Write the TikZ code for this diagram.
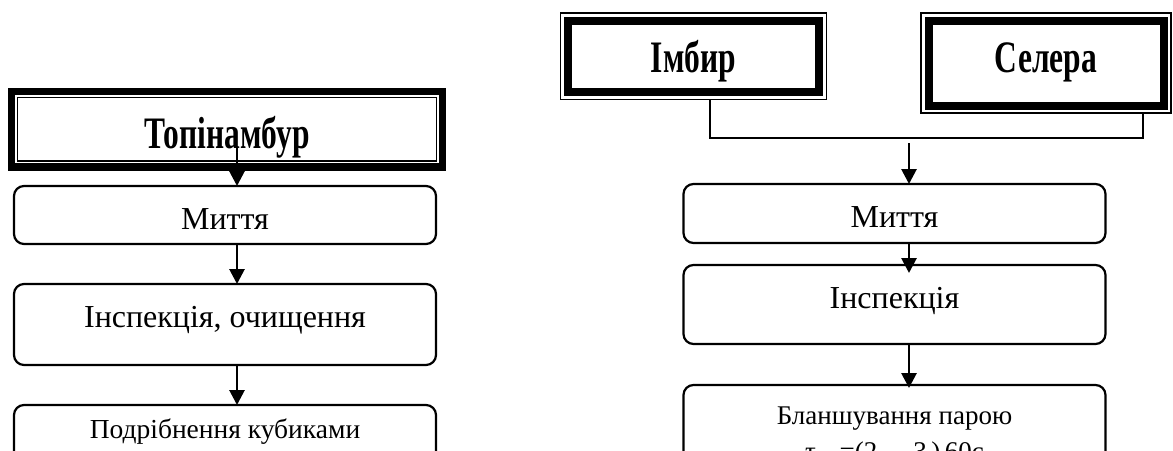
\documentclass[tikz,border=0pt]{standalone}
\usepackage{fontspec}
\setmainfont{Liberation Serif}
\newfontfamily\vuzkyj[FakeStretch=0.7]{Liberation Serif Bold}
\usetikzlibrary{arrows.meta,positioning}

\begin{document}
\begin{tikzpicture}[x=1pt,y=-1pt,>={Triangle[length=15pt,width=15pt]},
  krok/.style={draw,line width=2.2pt,rounded corners=10pt,minimum width=422pt,inner xsep=4pt,inner ysep=0pt,outer sep=0pt,font=\fontsize{32}{36}\selectfont},
  dribno/.style={font=\fontsize{27.5}{36}\selectfont},
  vys/.style 2 args={text height=#1,text depth=#2},
  nazva/.style={draw,inner sep=0pt,outer sep=0pt,font=\fontsize{45}{50}\selectfont\vuzkyj},
  strilka/.style={->,line width=2.8pt},
  tonka/.style={line width=1.6pt}]
\clip (0,0) rectangle (1173,450);
% ліва гілка
\node[nazva,line width=1.6pt,minimum width=419pt,vys={50.5pt}{13pt},anchor=north](topi) at (227,97.5){Топінамбур};
\draw[line width=7.5pt] ([xshift=-6pt,yshift=6pt]topi.north west) rectangle ([xshift=6pt,yshift=-6pt]topi.south east);
\node[krok,vys={43.5pt}{14.5pt},anchor=north](myttyaL) at (225,186){Миття};
\node[krok,vys={43.5pt}{37.5pt},below=40pt of myttyaL](inspL){Інспекція, очищення};
\node[krok,dribno,vys={33pt}{60pt},below=40pt of inspL](podribL){Подрібнення кубиками};
\draw[strilka]([xshift=10pt,yshift=-18pt]topi.center)--([xshift=12pt]myttyaL.north);
\draw[strilka]([xshift=12pt]myttyaL.south)--([xshift=12pt]inspL.north);
\draw[strilka]([xshift=12pt]inspL.south)--([xshift=12pt]podribL.north);
% права гілка
\node[nazva,line width=8pt,minimum width=251pt,vys={51.5pt}{20pt},anchor=north](imbyr) at (693.5,20.5){Імбир};
\node[nazva,line width=8pt,minimum width=235pt,vys={51.5pt}{33.5pt},anchor=north](selera) at (1046,20.5){Селера};
\draw[tonka] ([xshift=-7.5pt,yshift=7.5pt]imbyr.north west) rectangle ([xshift=7.5pt,yshift=-7.5pt]imbyr.south east);
\draw[tonka] ([xshift=-7.5pt,yshift=7.5pt]selera.north west) rectangle ([xshift=7.5pt,yshift=-7.5pt]selera.south east);
\coordinate (zlyv) at (909,138);
\draw[line width=1.4pt]([xshift=16.5pt,yshift=-7.5pt]imbyr.south) |- (zlyv) -| ([xshift=97pt,yshift=-7.5pt]selera.south);
\node[krok,vys={43pt}{16pt},anchor=north](myttyaR) at (894.5,184){Миття};
\node[krok,vys={43pt}{36pt},below=22pt of myttyaR](inspR){Інспекція};
\node[krok,font=\fontsize{27}{36}\selectfont,align=center,inner ysep=22pt,below=41pt of inspR](blansh){Бланшування парою\\τ\textsubscript{бл}\,=(2\,…\,3\,)\,60с};
\draw[strilka]([yshift=-5pt]zlyv)--(zlyv |- myttyaR.north);
\draw[strilka]([xshift=14.5pt]myttyaR.south)--([xshift=14.5pt,yshift=-8pt]inspR.north);
\draw[strilka]([xshift=14.5pt]inspR.south)--([xshift=14.5pt,yshift=-3pt]blansh.north);
\end{tikzpicture}
\end{document}
